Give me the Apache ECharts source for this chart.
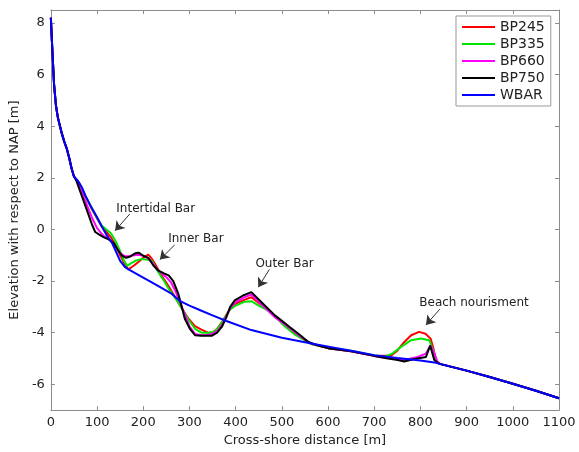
<!DOCTYPE html>
<html>
<head>
<meta charset="utf-8">
<script src="https://cdn.jsdelivr.net/npm/echarts@6/dist/echarts.min.js"></script>
<style>
html, body { margin: 0; padding: 0; background: #fff; }
#main { width: 579px; height: 452px; }
</style>
</head>
<body>
<div id="main"></div>
<script>
// shared upper beach and offshore tail of every profile
var headDist = [0, 2, 4, 7, 11, 15, 19, 24, 29, 35, 40, 45, 50];
var headElev = [8.2, 7.4, 6.65, 5.6, 4.8, 4.35, 4.05, 3.7, 3.4, 3.1, 2.75, 2.35, 2.05];
var tailDist = [844, 900, 950, 1000, 1050, 1100];
var tailElev = [-5.22, -5.47, -5.72, -5.98, -6.25, -6.54];

var bp245Dist = [60, 70, 80, 90, 100, 110, 120, 130, 140, 150, 160, 168, 180, 190, 200, 211, 218, 226, 240, 255, 269, 285, 298, 312, 326, 340, 350, 360, 373, 387, 400, 420, 434, 450, 470, 490, 510, 530, 550, 564, 600, 650, 700, 737, 750, 762, 780, 797, 811, 822, 828, 834];
var bp245Elev = [1.8, 1.45, 1.1, 0.75, 0.42, 0.12, -0.1, -0.3, -0.6, -1.0, -1.35, -1.55, -1.4, -1.25, -1.1, -0.98, -1.12, -1.35, -1.8, -2.2, -2.63, -3.1, -3.46, -3.75, -3.88, -4.0, -4.0, -3.85, -3.52, -3.1, -2.88, -2.72, -2.63, -2.85, -3.1, -3.45, -3.75, -4.05, -4.28, -4.44, -4.6, -4.72, -4.9, -4.88, -4.7, -4.42, -4.1, -3.97, -4.04, -4.23, -4.6, -5.1];

var bp335Dist = [60, 70, 80, 90, 100, 110, 120, 130, 140, 150, 158, 165, 175, 185, 197, 210, 219, 233, 245, 255, 269, 285, 298, 312, 326, 341, 355, 365, 373, 387, 400, 420, 434, 450, 470, 490, 506, 530, 550, 564, 600, 650, 700, 722, 740, 758, 780, 801, 819, 826, 836];
var bp335Elev = [1.82, 1.48, 1.12, 0.78, 0.45, 0.15, 0.0, -0.15, -0.45, -0.85, -1.2, -1.41, -1.3, -1.2, -1.15, -1.18, -1.22, -1.67, -2.0, -2.3, -2.65, -3.1, -3.5, -3.85, -4.0, -4.0, -3.95, -3.75, -3.52, -3.12, -2.95, -2.8, -2.78, -2.95, -3.14, -3.45, -3.75, -4.1, -4.3, -4.44, -4.6, -4.7, -4.88, -4.94, -4.8, -4.55, -4.29, -4.23, -4.29, -4.6, -5.17];

var bp660Dist = [55, 68, 78, 89, 100, 114, 125, 136, 150, 160, 170, 180, 190, 200, 210, 220, 230, 240, 250, 260, 270, 280, 290, 300, 312, 326, 345, 360, 370, 380, 390, 400, 416, 434, 456, 485, 517, 540, 564, 600, 650, 700, 730, 765, 794, 812, 822, 830, 838];
var bp660Elev = [1.95, 1.41, 0.95, 0.45, 0.05, -0.25, -0.38, -0.55, -0.92, -1.04, -1.03, -1.0, -0.98, -1.02, -1.12, -1.3, -1.55, -1.7, -1.85, -2.05, -2.4, -2.85, -3.3, -3.75, -4.05, -4.1, -4.08, -3.95, -3.72, -3.35, -3.0, -2.82, -2.65, -2.52, -2.9, -3.4, -3.82, -4.15, -4.42, -4.6, -4.72, -4.9, -4.98, -5.06, -4.94, -4.81, -4.49, -4.8, -5.18];

var bp750Dist = [55, 67, 78, 89, 96, 104, 114, 125, 136, 145, 154, 163, 172, 183, 190, 200, 211, 222, 233, 245, 255, 265, 276, 282, 290, 301, 312, 326, 348, 360, 370, 380, 388, 398, 416, 434, 456, 485, 517, 540, 557, 575, 600, 650, 700, 730, 751, 765, 787, 812, 821, 830, 838];
var bp750Elev = [1.9, 1.3, 0.75, 0.19, -0.1, -0.19, -0.3, -0.38, -0.53, -0.8, -1.02, -1.1, -1.05, -0.92, -0.9, -1.02, -1.1, -1.4, -1.6, -1.7, -1.78, -2.0, -2.5, -2.9, -3.46, -3.85, -4.1, -4.12, -4.12, -4.0, -3.78, -3.4, -3.01, -2.75, -2.56, -2.43, -2.82, -3.33, -3.78, -4.1, -4.36, -4.48, -4.6, -4.72, -4.9, -5.0, -5.06, -5.12, -5.02, -4.94, -4.5, -5.06, -5.18];

var wbarDist = [60, 68, 75, 85, 100, 110, 120, 132, 142, 150, 160, 168, 200, 230, 262, 280, 300, 326, 350, 380, 434, 500, 564, 607, 650, 700, 750, 800, 834];
var wbarElev = [1.85, 1.6, 1.3, 0.95, 0.47, 0.12, -0.2, -0.51, -0.9, -1.22, -1.45, -1.55, -1.87, -2.17, -2.5, -2.78, -2.95, -3.15, -3.33, -3.55, -3.9, -4.2, -4.42, -4.56, -4.7, -4.87, -4.98, -5.08, -5.17];

var yTicks = [-6, -4, -2, 0, 2, 4, 6, 8];

// annotations: label position, arrow tail, arrow head (data units)
var notes = [
  { text: 'Intertidal Bar', at: [227, 0.8], from: [171, 0.6], to: [139, -0.05] },
  { text: 'Inner Bar', at: [314, -0.37], from: [268, -0.6], to: [236, -1.17] },
  { text: 'Outer Bar', at: [506, -1.32], from: [473, -1.55], to: [449, -2.24] },
  { text: 'Beach nourisment', at: [916, -2.86], from: [842, -3.09], to: [812, -3.7] }
];

function profile(d, e) {
  var xs = headDist.concat(d, tailDist);
  var ys = headElev.concat(e, tailElev);
  return xs.map(function (x, i) { return [x, ys[i]]; });
}

var font = 'DejaVu Sans';
var axisGrey = '#8c8c8c';

function lineSeries(name, color, data) {
  return {
    name: name,
    type: 'line',
    data: data,
    showSymbol: false,
    symbol: 'none',
    lineStyle: { color: color, width: 2 },
    itemStyle: { color: color },
    emphasis: { disabled: true }
  };
}

var chart = echarts.init(document.getElementById('main'), null, { renderer: 'canvas' });

var wbar = lineSeries('WBAR', '#0000ff', profile(wbarDist, wbarElev));
wbar.markLine = {
  silent: true,
  animation: false,
  label: { show: false },
  lineStyle: { color: '#333', width: 1, type: 'solid' },
  data: notes.map(function (n) {
    return [
      { coord: n.from, symbol: 'none' },
      { coord: n.to, symbol: 'arrow', symbolSize: 9 }
    ];
  })
};
wbar.markPoint = {
  silent: true,
  animation: false,
  symbol: 'circle',
  symbolSize: 1,
  itemStyle: { color: 'rgba(0,0,0,0)' },
  label: {
    show: true,
    position: 'inside',
    color: '#222',
    fontFamily: font,
    fontSize: 12,
    formatter: function (p) { return p.name; }
  },
  data: notes.map(function (n) { return { name: n.text, coord: n.at }; })
};

var option = {
  animation: false,
  textStyle: { fontFamily: font },
  grid: { left: 48, right: 20, top: 10, bottom: 39 },
  legend: {
    orient: 'vertical',
    left: 456,
    top: 16,
    padding: [4, 6, 4, 6],
    itemGap: 3,
    itemWidth: 33,
    itemHeight: 2,
    icon: 'rect',
    backgroundColor: '#fff',
    borderColor: '#999',
    borderWidth: 1,
    borderRadius: 0,
    textStyle: { color: '#222', fontSize: 14, fontFamily: font },
    data: ['BP245', 'BP335', 'BP660', 'BP750', 'WBAR']
  },
  xAxis: [{
    type: 'value',
    min: 0, max: 1100, interval: 100,
    position: 'bottom',
    name: 'Cross-shore distance [m]',
    nameLocation: 'middle',
    nameGap: 22,
    nameTextStyle: { color: '#222', fontSize: 13, fontFamily: font },
    axisLine: { onZero: false, lineStyle: { color: axisGrey } },
    axisTick: { inside: true, length: 4, lineStyle: { color: axisGrey } },
    axisLabel: { color: '#222', fontSize: 13, margin: 6, fontFamily: font, formatter: function (v) { return String(v); } },
    splitLine: { show: false }
  }, {
    type: 'value',
    min: 0, max: 1100, interval: 100,
    position: 'top',
    axisLine: { onZero: false, lineStyle: { color: axisGrey } },
    axisTick: { inside: true, length: 4, lineStyle: { color: axisGrey } },
    axisLabel: { show: false },
    splitLine: { show: false }
  }],
  yAxis: [{
    type: 'value',
    min: -7, max: 8.5,
    position: 'left',
    name: 'Elevation with respect to NAP [m]',
    nameLocation: 'middle',
    nameGap: 24,
    nameTextStyle: { color: '#222', fontSize: 13, fontFamily: font },
    axisLine: { show: true, onZero: false, lineStyle: { color: axisGrey } },
    axisTick: { show: true, inside: true, length: 4, customValues: yTicks, lineStyle: { color: axisGrey } },
    axisLabel: { color: '#222', fontSize: 13, margin: 6, customValues: yTicks, fontFamily: font },
    splitLine: { show: false }
  }, {
    type: 'value',
    min: -7, max: 8.5,
    position: 'right',
    axisLine: { show: true, onZero: false, lineStyle: { color: axisGrey } },
    axisTick: { show: true, inside: true, length: 4, customValues: yTicks, lineStyle: { color: axisGrey } },
    axisLabel: { show: false, customValues: yTicks },
    splitLine: { show: false }
  }],
  series: [
    lineSeries('BP245', '#ff0000', profile(bp245Dist, bp245Elev)),
    lineSeries('BP335', '#00e600', profile(bp335Dist, bp335Elev)),
    lineSeries('BP660', '#ff00ff', profile(bp660Dist, bp660Elev)),
    lineSeries('BP750', '#000000', profile(bp750Dist, bp750Elev)),
    wbar
  ]
};

chart.setOption(option);
</script>
</body>
</html>
